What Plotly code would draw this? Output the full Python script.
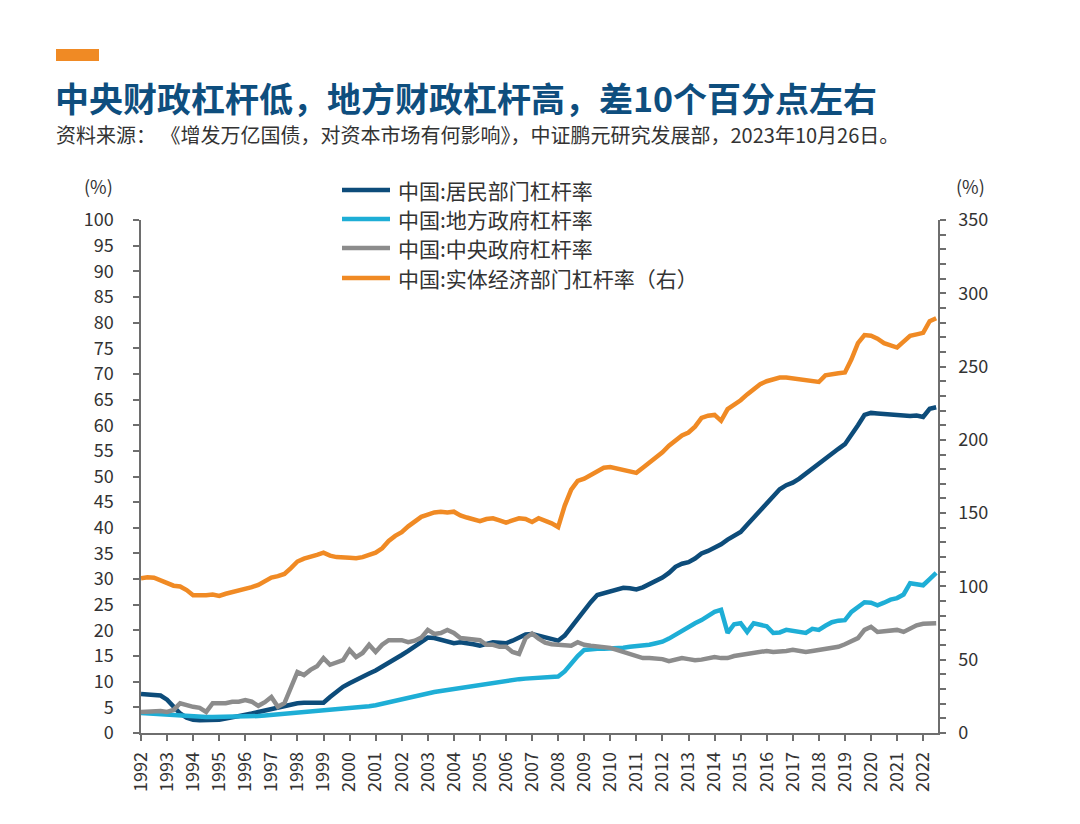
import plotly.graph_objects as go

# ---------------- data (quarterly, 1992Q1 - 2022Q3) ----------------
start_year = 1992
household = [
    7.6, 7.5, 7.5, 7.3,   6.5, 5.0, 3.8, 3.0,   2.6, 2.5, 2.5, 2.5,   2.6, 2.8, 3.0, 3.2,
    3.5, 3.8, 4.1, 4.4,   4.7, 5.0, 5.3, 5.6,   5.8, 5.9, 5.9, 5.9,   5.9, 7.0, 8.0, 9.0,
    9.7, 10.4, 11.0, 11.6, 12.2, 12.9, 13.6, 14.4, 15.2, 16.0, 16.8, 17.6, 18.6, 18.5, 18.2, 17.8,
    17.5, 17.7, 17.6, 17.3, 17.0, 17.4, 17.7, 17.6, 17.5, 18.0, 18.7, 19.2, 19.3, 19.0, 18.6, 18.3,
    18.0, 19.0, 20.7, 22.3, 23.8, 25.5, 26.9, 27.2, 27.5, 27.8, 28.3, 28.2, 28.0, 28.4, 29.0, 29.5,
    30.3, 31.2, 32.4, 33.0, 33.3, 34.0, 35.0, 35.5, 36.1, 36.8, 37.7, 38.5, 39.2, 40.6, 42.0, 43.5,
    44.8, 46.3, 47.5, 48.3, 48.8, 49.6, 50.6, 51.6, 52.5, 53.4, 54.5, 55.4, 56.3, 58.0, 60.0, 62.0,
    62.4, 62.3, 62.2, 62.1, 62.0, 61.8, 61.8, 61.9, 61.6, 63.2, 63.5,
]
local_gov = [
    3.9, 3.8, 3.7, 3.6,   3.5, 3.4, 3.3, 3.2,   3.2, 3.1, 3.1, 3.1,   3.1, 3.1, 3.1, 3.2,
    3.2, 3.3, 3.3, 3.4,   3.5, 3.6, 3.7, 3.8,   4.0, 4.1, 4.2, 4.3,   4.4, 4.5, 4.6, 4.7,
    4.8, 4.9, 5.0, 5.2,   5.4, 5.7, 6.0, 6.3,   6.7, 7.0, 7.3, 7.6,   7.8, 8.0, 8.2, 8.4,
    8.5, 8.7, 9.0, 9.3,   9.5, 9.7, 9.9, 10.1,  10.3, 10.4, 10.5, 10.6, 10.7, 10.7, 10.8, 10.9,
    11.0, 12.0, 13.6, 15.0, 16.2, 16.4, 16.4, 16.4, 16.4, 16.5, 16.6, 16.8, 16.9, 17.0, 17.2, 17.5,
    17.8, 18.4, 19.2, 20.0, 20.8, 21.4, 22.0, 22.8, 23.6, 24.0, 19.5, 21.2, 21.4, 19.7, 21.4, 21.1,
    20.8, 19.5, 19.6, 20.1, 19.9, 19.7, 19.5, 20.3, 20.1, 20.9, 21.6, 21.9, 22.0, 23.6, 24.6, 25.5,
    25.4, 24.9, 25.4, 26.0, 26.3, 27.0, 29.2, 29.0, 28.8, 30.0, 31.2,
]
central_gov = [
    4.1, 4.2, 4.4, 4.3,   4.1, 4.5, 5.8, 5.4,   5.1, 4.9, 4.1, 5.8,   5.7, 5.8, 6.1, 6.1,
    6.4, 6.1, 5.3, 6.0,   7.0, 5.1, 5.8, 9.0,   11.9, 11.3, 12.3, 13.0, 14.6, 13.3, 13.8, 14.2,
    16.2, 14.8, 15.6, 17.2, 15.8, 17.2, 18.1, 18.1, 18.1, 17.7, 18.0, 18.6, 20.1, 19.3, 19.5, 20.1,
    19.5, 18.5, 18.3, 18.1, 18.1, 17.2, 17.2, 16.8, 16.8, 15.8, 15.4, 18.5, 19.4, 18.4, 17.6, 17.3,
    17.2, 17.0, 17.0, 17.7, 17.2, 17.0, 16.9, 16.8, 16.6, 16.2, 15.8, 15.2, 14.8, 14.6, 14.6, 14.6,
    14.4, 14.0, 14.3, 14.6, 14.4, 14.2, 14.3, 14.6, 14.8, 14.6, 14.6, 15.0, 15.2, 15.4, 15.6, 16.0,
    16.0, 15.8, 15.8, 16.0, 16.2, 16.0, 15.8, 16.0, 16.2, 16.4, 16.6, 16.8, 17.3, 17.8, 18.5, 20.1,
    20.7, 19.7, 19.8, 20.0, 20.1, 19.7, 20.3, 21.0, 21.3, 21.4, 21.4,
]
real_economy = [
    105.5, 106.2, 106.0, 104.0, 102.0, 100.5, 100.0, 97.5, 94.0, 93.8, 94.0, 94.5, 93.5, 95.0, 96.0, 97.0,
    98.0, 99.5, 101.0, 103.5, 106.0, 107.0, 108.5, 112.5, 117.0, 119.0, 120.0, 121.5, 123.0, 121.0, 120.0, 119.5,
    119.5, 119.3, 120.0, 121.5, 123.0, 126.0, 131.0, 134.5, 137.0, 141.0, 144.0, 147.5, 149.0, 150.5, 151.0, 150.5,
    151.0, 148.5, 147.0, 146.0, 144.5, 146.0, 146.5, 145.0, 143.5, 145.0, 146.5, 146.0, 144.0, 146.5, 145.0, 143.0,
    140.5, 155.0, 166.0, 172.0, 173.5, 176.0, 179.0, 181.0, 181.5, 180.5, 180.0, 179.0, 177.5, 181.0, 184.5, 188.0,
    191.5, 196.0, 200.0, 203.0, 205.0, 209.0, 215.0, 216.5, 217.0, 213.0, 221.0, 224.0, 227.0, 231.0, 235.0, 238.0,
    240.0, 241.5, 242.5, 242.5, 242.0, 241.5, 241.0, 240.5, 239.5, 244.0, 245.0, 245.5, 246.0, 255.0, 266.0, 271.5,
    271.0, 269.0, 266.0, 264.5, 263.0, 267.0, 271.0, 272.0, 273.0, 281.0, 283.0,
]
year_ticks = list(range(1992, 2023))
names = ["中国:居民部门杠杆率", "中国:地方政府杠杆率", "中国:中央政府杠杆率", "中国:实体经济部门杠杆率（右）"]

# x positions: quarter index -> fractional year
x = [start_year + i / 4 for i in range(len(household))]

# ---------------- style ----------------
FONT = "Noto Sans CJK SC"
TXT = "#333333"
AX = "#6e6e6e"
colors = ["#0d4c7a", "#1eaed6", "#8c8c8c", "#f08a24"]
L, R, T, B = 141, 142, 220, 91
W, H = 1080, 824
PW, PH = W - L - R, H - T - B


def px(xp):
    return (xp - L) / PW


def py(yp):
    return (H - B - yp) / PH


fig = go.Figure()
for name, vals, col in zip(names[:3], [household, local_gov, central_gov], colors[:3]):
    fig.add_trace(go.Scatter(x=x, y=vals, name=name, mode="lines", showlegend=False,
                             line=dict(color=col, width=4.5), yaxis="y"))
fig.add_trace(go.Scatter(x=x, y=real_economy, name=names[3], mode="lines", showlegend=False,
                         line=dict(color=colors[3], width=4.5), yaxis="y2"))

fig.update_layout(
    width=W, height=H,
    margin=dict(l=L, r=R, t=T, b=B),
    paper_bgcolor="white", plot_bgcolor="white",
    font=dict(family=FONT, color=TXT, size=18),
    showlegend=False,
    xaxis=dict(range=[1992, 2022.57], tickvals=year_ticks, ticktext=[str(y) for y in year_ticks],
               tickangle=-90, ticks="outside", ticklen=6, tickcolor=AX, tickwidth=1.5,
               ticklabelstandoff=4,
               showline=True, linecolor=AX, linewidth=1.5, showgrid=False, zeroline=False,
               tickfont=dict(size=18, color=TXT)),
    yaxis=dict(range=[0, 100], dtick=5, tick0=0, ticks="outside", ticklen=6, tickcolor=AX,
               tickwidth=1.5, ticklabelstandoff=16,
               showline=True, linecolor=AX, linewidth=1.5, showgrid=False,
               zeroline=False, tickfont=dict(size=18, color=TXT)),
    yaxis2=dict(range=[0, 350], dtick=50, tick0=0, overlaying="y", side="right",
                ticks="outside", ticklen=6, tickcolor=AX, tickwidth=1.5, ticklabelstandoff=9,
                minor=dict(dtick=10, ticks="outside", ticklen=6, tickcolor=AX, tickwidth=1.5),
                showline=True, linecolor=AX, linewidth=1.5, showgrid=False, zeroline=False,
                tickfont=dict(size=18, color=TXT)),
)

# legend (drawn as line samples + text)
legend_rows = [190, 219, 248, 278]
for name, col, yy in zip(names, colors, legend_rows):
    fig.add_shape(type="line", xref="paper", yref="paper",
                  x0=px(342), x1=px(390), y0=py(yy), y1=py(yy),
                  line=dict(color=col, width=4.5))
    fig.add_annotation(text=name, xref="paper", yref="paper", x=px(396), y=py(yy),
                       xanchor="left", yanchor="middle", showarrow=False,
                       font=dict(family=FONT, size=21, color=TXT))

# header decoration bar
fig.add_shape(type="rect", xref="paper", yref="paper",
              x0=px(56), x1=px(99), y0=py(61), y1=py(49),
              fillcolor="#f08a24", line=dict(width=0))

fig.add_annotation(text="<b>中央财政杠杆低，地方财政杠杆高，差10个百分点左右</b>",
                   xref="paper", yref="paper", x=px(53), y=py(97),
                   xanchor="left", yanchor="middle", showarrow=False,
                   font=dict(family=FONT, size=34, color="#0e4e7e"))
fig.add_annotation(text="资料来源： 《增发万亿国债，对资本市场有何影响》，中证鹏元研究发展部，2023年10月26日。",
                   xref="paper", yref="paper", x=px(54), y=py(135),
                   xanchor="left", yanchor="middle", showarrow=False,
                   font=dict(family=FONT, size=20, color=TXT))
fig.add_annotation(text="(%)", xref="paper", yref="paper", x=px(98), y=py(186),
                   xanchor="center", yanchor="middle", showarrow=False,
                   font=dict(family=FONT, size=18, color=TXT))
fig.add_annotation(text="(%)", xref="paper", yref="paper", x=px(970), y=py(186),
                   xanchor="center", yanchor="middle", showarrow=False,
                   font=dict(family=FONT, size=18, color=TXT))

fig.write_html("out.html")
